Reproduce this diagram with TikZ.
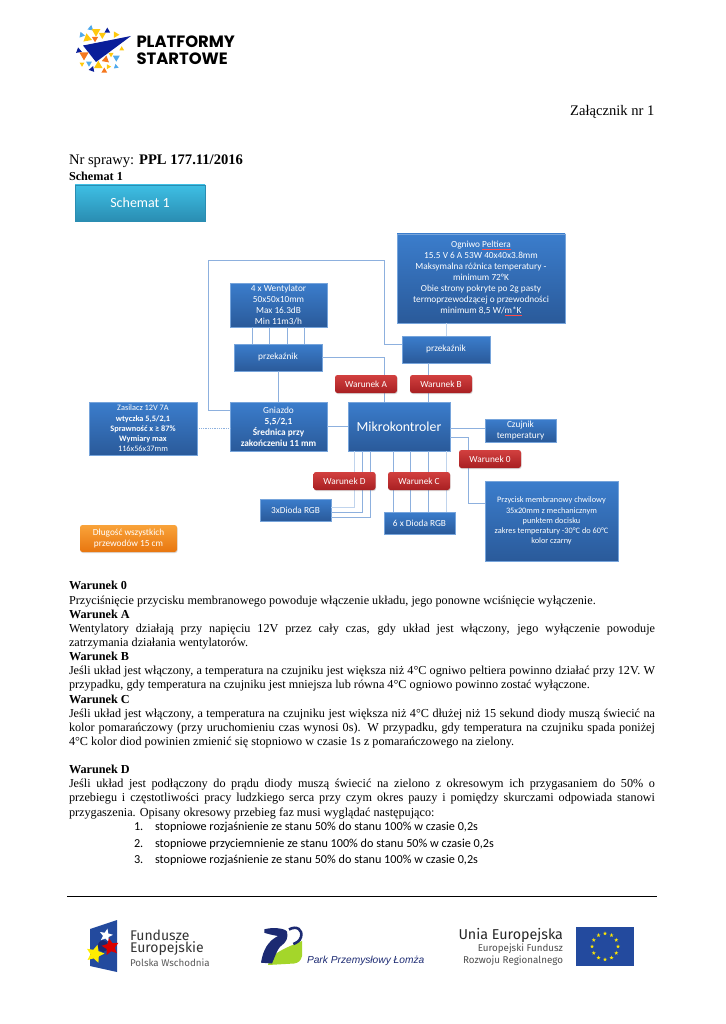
\documentclass[tikz,border=0pt]{standalone}
\usepackage{fontspec}
\usepackage{xcolor}
\usepackage{tikz}
\usetikzlibrary{shadows,shapes.geometric}
\setmainfont{Liberation Serif}
\newfontfamily\calibri{Carlito}
\newfontfamily\logofont{Poppins}
\newfontfamily\fundfont{Fira Sans}
\newfontfamily\arialfont{Liberation Sans}
\definecolor{boxtop}{HTML}{3B7DCC}
\definecolor{boxbottom}{HTML}{2A5A9A}
\definecolor{cyantop}{HTML}{3EBFE4}
\definecolor{cyanbottom}{HTML}{2A8DB2}
\definecolor{orangetop}{HTML}{F9A33A}
\definecolor{orangebottom}{HTML}{E8760F}
\definecolor{redtop}{HTML}{D2403F}
\definecolor{redbottom}{HTML}{A81F22}
\definecolor{wirecolor}{HTML}{8DB0DE}
\definecolor{logoblue}{HTML}{0A1E9A}
\definecolor{logosky}{HTML}{4FA9EC}
\definecolor{logoyellow}{HTML}{FFC90E}
\definecolor{logoorange}{HTML}{F5781E}
\definecolor{euflag}{HTML}{234A9E}
\definecolor{parknavy}{HTML}{1C2A72}
\definecolor{parkgreen}{HTML}{A4D62A}
\newcommand{\spellmark}[1]{\leavevmode\setbox0\hbox{#1}\rlap{\textcolor{red!70!white}{\rule[-1.6pt]{\wd0}{0.5pt}}}\box0}
\begin{document}
\begin{tikzpicture}[
    x=1pt, y=-1pt,
    bluebox/.style={rectangle, draw=boxtop!70, line width=0.3pt, top color=boxtop, bottom color=boxbottom,
                    text=white, align=center, inner sep=0pt,
                    drop shadow={shadow xshift=0.6pt, shadow yshift=-1pt, opacity=0.3}},
    redbox/.style={rectangle, rounded corners=2.5pt, top color=redtop, bottom color=redbottom,
                   text=white, align=center, inner sep=0pt,
                   font=\calibri\fontsize{9.3}{11}\selectfont,
                   minimum width=62pt, minimum height=18pt,
                   drop shadow={shadow xshift=0.6pt, shadow yshift=-1pt, opacity=0.3}},
    wire/.style={draw=wirecolor, line width=0.8pt},
    lightwire/.style={draw=wirecolor!55, line width=0.9pt},
    boxfont/.style={font=\calibri\fontsize{9.3}{11}\selectfont},
    smallfont/.style={font=\calibri\fontsize{8.3}{10.2}\selectfont},
    plain/.style={inner sep=0pt, outer sep=0pt},
    body/.style={plain, text width=586pt, align=justify, font=\fontsize{12.2}{14.13}\selectfont},
    listline/.style={plain, anchor=base west, font=\calibri\fontsize{12.2}{14}\selectfont},
    fundtext/.style={plain, anchor=west, text=black!80},
    eutext/.style={plain, anchor=east, text=black!70, font=\fundfont\fontsize{9.8}{12}\selectfont},
    eustar/.style={star, star points=5, star point ratio=2.4, fill=yellow!90!orange, inner sep=0pt, minimum size=4.2pt}
]
\useasboundingbox (0,0) rectangle (725,1024);

\fill[logoblue] (131,36) -- (83,45.5) -- (96,62) -- cycle;
\foreach \x/\y/\s/\r/\c in {90.7/28.3/3.4/40/logosky, 81.7/35/3.4/10/logosky, 96/31.7/5/90/logoyellow,
    107.3/31/3.4/30/logoblue, 102.3/35/4/90/logoyellow, 115.7/34.7/3.8/0/logoyellow, 87.3/38.3/5/20/logoyellow,
    95/38.7/3.6/90/logoorange, 78.7/50.7/3.4/20/logoblue, 84/55/5.4/90/logoorange, 111/54.3/3/90/logoyellow,
    121.7/49/2.8/30/logoyellow, 116.3/57.7/4/90/logosky, 105.7/59.7/4.2/40/logoorange, 82/64/2.8/90/logoyellow,
    89/63.3/3.4/90/logosky, 98.3/65.7/5/-90/logoyellow, 108.3/66.7/2.8/0/logoyellow, 116/66.7/2.8/20/logosky,
    92/69.3/3.4/50/logoblue, 104.3/71/3.4/-90/logoorange}
    \fill[\c] (\x,\y) +(\r:\s) -- +(\r+120:\s) -- +(\r+240:\s) -- cycle;
\node (platformy) [plain, anchor=west, font=\logofont\bfseries\fontsize{16.4}{18}\selectfont] at (136.5,42) {PLATFORMY};
\node (startowe) [plain, anchor=west, font=\logofont\bfseries\fontsize{16.4}{18}\selectfont] at (136.5,59) {STARTOWE};

\node (zalacznik) [plain, anchor=east, font=\fontsize{14.6}{16}\selectfont] at (654.5,111.5) {Załącznik nr 1};
\node (sprawa) [plain, anchor=west, font=\fontsize{14.6}{16}\selectfont] at (69,161.5) {Nr sprawy: \textbf{PPL 177.11/2016}};
\node (podpis) [plain, anchor=west, font=\bfseries\fontsize{12.2}{14}\selectfont] at (69,176.5) {Schemat 1};

\node (schemat) [bluebox, draw=cyanbottom, top color=cyantop, bottom color=cyanbottom, minimum width=130pt, minimum height=36pt,
    font=\calibri\fontsize{14}{16}\selectfont] at (140,203) {Schemat 1};
\node (wentylator) [bluebox, boxfont, minimum width=97pt, minimum height=44pt] at (278.5,305)
    {4 x Wentylator\\50x50x10mm\\Max 16.3dB\\Min 11m3/h};
\node (przekaznikL) [bluebox, boxfont, minimum width=88pt, minimum height=27pt] at (278,357.5) {przekaźnik};
\node (ogniwo) [bluebox, boxfont, minimum width=168pt, minimum height=89pt] at (481,278.5)
    {Ogniwo \spellmark{Peltiera}\\15.5 V 6 A 53W 40x40x3.8mm\\Maksymalna różnica temperatury  -\\minimum 72°K\\Obie strony pokryte po 2g pasty\\termoprzewodzącej o przewodności\\minimum  8,5 W/\spellmark{m*K}};
\node (przekaznikR) [bluebox, boxfont, minimum width=88pt, minimum height=27pt] at (446,349.5) {przekaźnik};
\node (zasilacz) [bluebox, smallfont, minimum width=108pt, minimum height=53pt] at (143,428.5)
    {Zasilacz 12V 7A\\\textbf{wtyczka 5,5/2,1}\\\textbf{Sprawność x ≥ 87\%}\\\textbf{Wymiary max}\\116x56x37mm};
\node (gniazdo) [bluebox, boxfont, minimum width=97pt, minimum height=49pt] at (278.5,426.5)
    {Gniazdo\\\textbf{5,5/2,1}\\\textbf{Średnica przy}\\\textbf{zakończeniu 11 mm}};
\node (mikrokontroler) [bluebox, minimum width=102pt, minimum height=49pt, font=\calibri\fontsize{13.8}{16}\selectfont] at (399,426.5) {Mikrokontroler};
\node (czujnik) [bluebox, boxfont, minimum width=71pt, minimum height=23pt] at (520.5,430.5) {Czujnik\\temperatury};
\node (przycisk) [bluebox, smallfont, minimum width=133pt, minimum height=80pt] at (551.5,521)
    {Przycisk membranowy chwilowy\\35x20mm z mechanicznym\\punktem docisku\\zakres temperatury -30°C do 60°C\\kolor czarny};
\node (diody6) [bluebox, boxfont, minimum width=71pt, minimum height=22pt] at (419.5,523) {6 x Dioda RGB};
\node (diody3) [bluebox, boxfont, minimum width=71pt, minimum height=22pt] at (295.5,510) {3xDioda RGB};
\node (dlugosc) [redbox, top color=orangetop, bottom color=orangebottom, minimum width=97pt, minimum height=27pt] at (128.5,538.5)
    {Długość wszystkich\\przewodów 15 cm};

\foreach \x in {252,269,287,304}
    \draw[wire] (wentylator.south -| \x,0) -- (przekaznikL.north -| \x,0);
\draw[wire] (przekaznikL.south) -- (gniazdo.north -| przekaznikL.south);
\draw[wire] (gniazdo.west |- 0,410) -- (208,410) -- (208,260.5) -- (384,260.5) -- (384,344) -- (przekaznikR.west |- 0,344);
\draw[wire] (przekaznikL.east) -- (384,357.5) -- (mikrokontroler.north -| 384,0);
\draw[lightwire] (ogniwo.south -| przekaznikR.north) -- (przekaznikR.north);
\draw[wire] (przekaznikR.south -| 428,0) -- (mikrokontroler.north -| 428,0);
\draw[wire] (gniazdo.east) -- (mikrokontroler.west);
\draw[wire, densely dotted] (zasilacz.east |- 0,428) ++(2,0) -- (gniazdo.west |- 0,428);
\draw[wire] (mikrokontroler.east |- 0,428) -- (czujnik.west |- 0,428);
\draw[wire] (mikrokontroler.east |- 0,437) -- (468,437) -- (468,503) -- (przycisk.west |- 0,503);
\draw[lightwire] (mikrokontroler.south -| 354,0) -- (354,507) -- (diody3.east |- 0,507);
\draw[wire] (mikrokontroler.south -| 362,0) -- (362,512) -- (diody3.east |- 0,512);
\draw[wire] (mikrokontroler.south -| 370,0) -- (370,517) -- (diody3.east |- 0,517);
\foreach \x in {393,410,428}
    \draw[wire] (mikrokontroler.south -| \x,0) -- (diody6.north -| \x,0);
\draw[lightwire] (mikrokontroler.south -| 446,0) -- (diody6.north -| 446,0);

\node (warunekA) [redbox] at (366,384) {Warunek A};
\node (warunekB) [redbox] at (441,384) {Warunek B};
\node (warunekD) [redbox] at (344.5,481) {Warunek D};
\node (warunekC) [redbox] at (419,481) {Warunek C};
\node (warunek0) [redbox] at (490,459) {Warunek 0};

\node (opis) [body, anchor=north west] at (69,581.5) {\textbf{Warunek 0}\par
Przyciśnięcie przycisku membranowego powoduje włączenie układu, jego ponowne wciśnięcie wyłączenie.\par
\textbf{Warunek A}\par
Wentylatory działają przy napięciu 12V przez cały czas, gdy układ jest włączony, jego wyłączenie powoduje\linebreak
zatrzymania działania wentylatorów.\par
\textbf{Warunek B}\par
Jeśli układ jest włączony, a temperatura na czujniku jest większa niż 4°C ogniwo peltiera powinno działać przy 12V. W\linebreak
przypadku, gdy temperatura na czujniku jest mniejsza lub równa 4°C ogniowo powinno zostać wyłączone.\par
\textbf{Warunek C}\par
Jeśli układ jest włączony, a temperatura na czujniku jest większa niż 4°C dłużej niż 15 sekund diody muszą świecić na\linebreak
kolor pomarańczowy (przy uruchomieniu czas wynosi 0s). W przypadku, gdy temperatura na czujniku spada poniżej\linebreak
4°C kolor diod powinien zmienić się stopniowo w czasie 1s z pomarańczowego na zielony.\par
\mbox{}\par
\textbf{Warunek D}\par
Jeśli układ jest podłączony do prądu diody muszą świecić na zielono z okresowym ich przygasaniem do 50\% o\linebreak
przebiegu i częstotliwości pracy ludzkiego serca przy czym okres pauzy i pomiędzy skurczami odpowiada stanowi\linebreak
przygaszenia. Opisany okresowy przebieg faz musi wyglądać następująco:};
\foreach \n/\y/\t in {1/830.5/stopniowe rozjaśnienie ze stanu 50\% do stanu 100\% w czasie 0{,}2s,
                      2/847/stopniowe przyciemnienie ze stanu 100\% do stanu 50\% w czasie 0{,}2s,
                      3/863.5/stopniowe rozjaśnienie ze stanu 50\% do stanu 100\% w czasie 0{,}2s} {
    \node (num\n) [listline] at (134,\y) {\n.};
    \node (item\n) [listline] at (155,\y) {\t};
}

\draw[line width=1.6pt] (67,896.5) -- (657,896.5);

\fill[euflag] (90,929) -- (117,920) -- (117,972) -- (90,966) -- cycle;
\fill[parknavy] (103,946) ellipse (5pt and 6pt);
\node (gwiazdaW) [star, star points=5, star point ratio=2.3, fill=white, inner sep=0pt, minimum size=14pt, rotate=-12] at (106,935.5) {};
\node (gwiazdaY) [star, star points=5, star point ratio=2.1, fill=yellow!95!orange, inner sep=0pt, minimum size=19pt, rotate=-15] at (95,954) {};
\node (gwiazdaR) [star, star points=5, star point ratio=2.1, fill=red!85!black, inner sep=0pt, minimum size=18pt, rotate=10] at (110.5,947) {};
\node (fundusze) [fundtext, font=\fundfont\fontsize{14}{16}\selectfont] at (130,935) {Fundusze};
\node (europejskie) [fundtext, font=\fundfont\fontsize{14}{16}\selectfont] at (130,948.5) {Europejskie};
\node (polska) [fundtext, text=black!65, font=\fundfont\fontsize{9.8}{12}\selectfont] at (130,963) {Polska Wschodnia};

\fill[parkgreen] (268,965) .. controls (270,955) and (280,950) .. (302,941) -- (302,956) .. controls (301,961) and (298,963) .. (294,963.5) -- cycle;
\fill[parknavy] (261,962.7) .. controls (263,950) and (268,941) .. (278,936) .. controls (272,935) and (268,934) .. (264.3,932.7)
    -- (264.3,929.3) .. controls (272,927) and (285,928) .. (287,931.7) .. controls (288.5,937) and (286,942) .. (283.3,944)
    .. controls (278,947) and (276,954) .. (272,963.5) -- cycle;
\draw[parknavy, line width=2.6pt] (289,929.5) .. controls (297,925) and (303,930) .. (301,937) .. controls (300,941) and (296,943) .. (293.3,944);
\node (park) [plain, anchor=west, text=parknavy, font=\arialfont\itshape\fontsize{10.2}{12}\selectfont] at (307,961) {Park Przemysłowy Łomża};

\node (unia) [plain, anchor=east, text=black!85, font=\fundfont\fontsize{14.3}{16}\selectfont] at (563,935) {Unia Europejska};
\node (fundusz) [eutext] at (563,949) {Europejski Fundusz};
\node (rozwoj) [eutext] at (563,961) {Rozwoju Regionalnego};
\fill[euflag] (576,927) rectangle (634,966);
\foreach \a in {0,30,...,330}
    \node (eustar\a) [eustar] at ({605+13*cos(\a)},{946.5+13*sin(\a)}) {};
\end{tikzpicture}
\end{document}
